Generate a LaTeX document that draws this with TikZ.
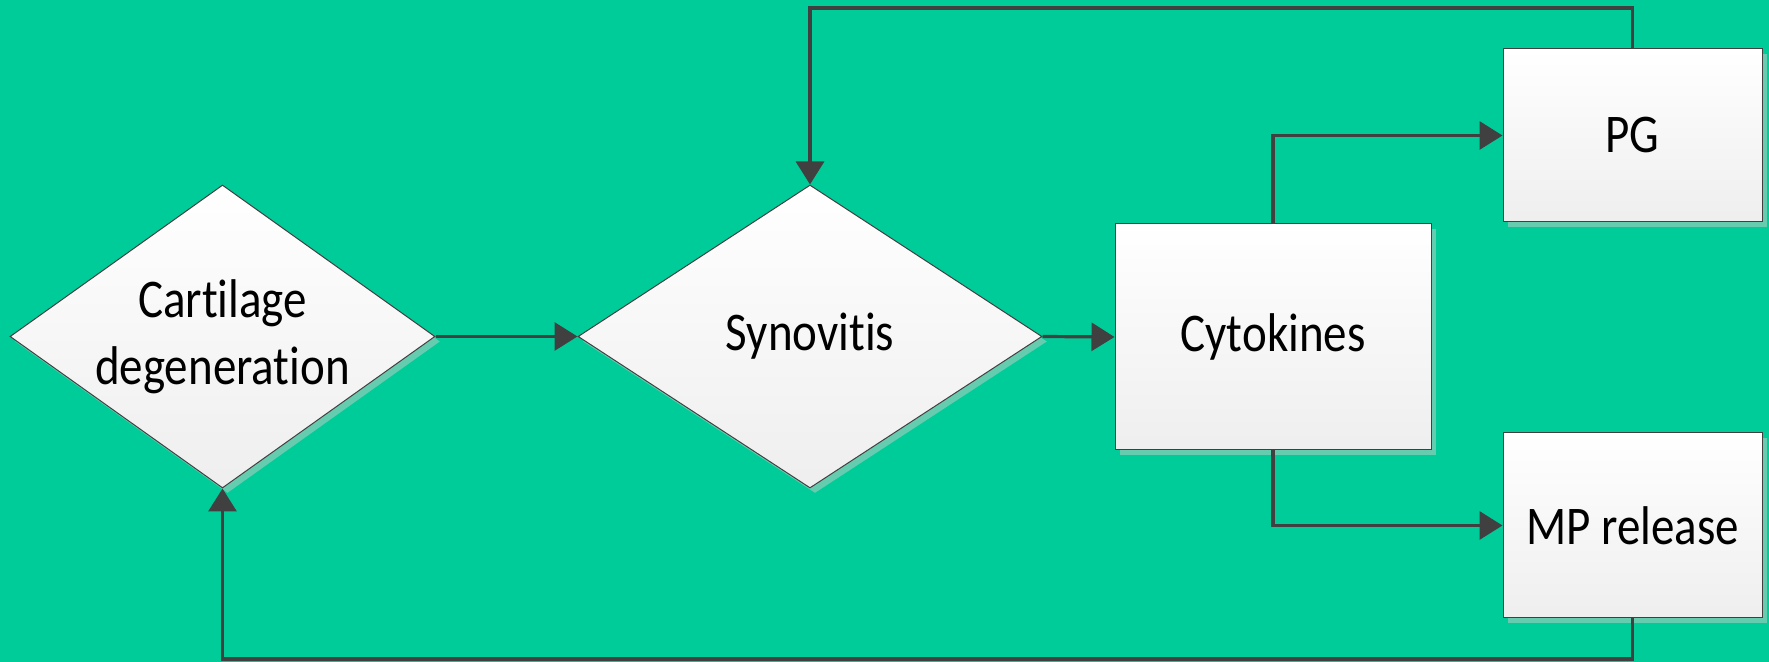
\documentclass[tikz,border=0pt]{standalone}
\usepackage{fontspec}
\setmainfont{Carlito}[Ligatures=NoCommon]
\usepackage{graphicx}
\usepackage{xcolor}
\usetikzlibrary{shapes.geometric}
\usetikzlibrary{arrows.meta}
\usetikzlibrary{shadows}
\definecolor{bgteal}{HTML}{00CC99}
\definecolor{shadeteal}{HTML}{66CCB0}
\definecolor{linegray}{HTML}{404040}
\newcommand{\talltext}[1]{\scalebox{1}[1.16]{#1}}
\begin{document}
\begin{tikzpicture}[x=0.5pt, y=-0.5pt,
    boxbase/.style={draw=linegray, line width=0.5pt, top color=white, bottom color=gray!13,
      general shadow={fill=shadeteal, shadow xshift=2.5pt, shadow yshift=-2.5pt},
      inner sep=0pt, align=center, font=\fontsize{23.5}{33.5}\selectfont},
    decision/.style={boxbase, shape=diamond, inner sep=-15pt},
    process/.style={boxbase, shape=rectangle},
    conn/.style={draw=linegray, line width=1.6pt, -{Triangle[length=11.5pt, width=14pt]}}]
    \fill [bgteal] (0,0) rectangle (1769,662);
    \useasboundingbox (0,0) rectangle (1769,662);
    % shapes
    \node [decision, minimum width=212.5pt, minimum height=151.5pt] (cartilage) at (222.5,336.5) {\talltext{Cartilage}\\\talltext{degeneration}};
    \node [decision, minimum width=232pt, minimum height=151.5pt] (synovitis) at (810,336.5) {\talltext{Synovitis}};
    \node [process, minimum width=158pt, minimum height=113pt] (cytokines) at (1273,337) {\talltext{Cytokines}};
    \node [process, minimum width=129.5pt, minimum height=86.5pt] (pg) at (1632.5,135.5) {\talltext{PG}};
    \node [process, minimum width=129.5pt, minimum height=92.5pt] (mp) at (1632.5,525.5) {\talltext{MP release}};
    \coordinate (topline) at (0,8);
    \coordinate (bottomline) at (0,659);
    % connectors
    \draw [conn] (cartilage.east) -- (synovitis.west);
    \draw [conn] (synovitis.east) -- (cytokines.west);
    \draw [conn] (cytokines.north) |- (pg.west);
    \draw [conn] (cytokines.south) |- (mp.west);
    \draw [conn] (pg.north) -- (pg.north |- topline) -| (synovitis.north);
    \draw [conn] (mp.south) -- (mp.south |- bottomline) -| (cartilage.south);
\end{tikzpicture}
\end{document}
